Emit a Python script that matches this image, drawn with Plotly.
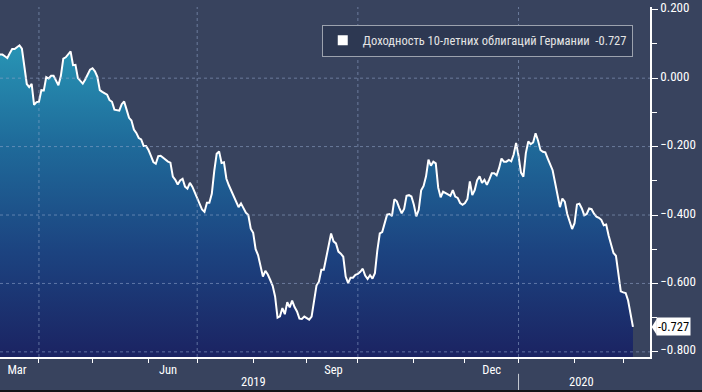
import plotly.graph_objects as go
import pandas as pd

# ---- data ----
series_name = "Доходность 10-летних облигаций Германии"
start_date = "2019-03-08"
yields = [
    0.069, 0.069, 0.064, 0.059, 0.073, 0.085, 0.085, 0.091, 0.096, 0.086,
    0.032, -0.017, -0.026, -0.017, -0.078, -0.070, -0.069, -0.035, -0.036, 0.003,
    -0.001, 0.007, 0.007, -0.006, -0.021, 0.007, 0.057, 0.061, 0.068, 0.078,
    0.038, 0.039, 0.000, -0.007, -0.016, -0.004, 0.011, 0.025, 0.029, 0.020,
    0.004, -0.035, -0.040, -0.044, -0.048, -0.064, -0.069, -0.092, -0.094, -0.095,
    -0.076, -0.068, -0.092, -0.116, -0.124, -0.150, -0.160, -0.175, -0.179, -0.198,
    -0.198, -0.210, -0.227, -0.245, -0.250, -0.228, -0.227, -0.233, -0.238, -0.244,
    -0.247, -0.288, -0.297, -0.311, -0.299, -0.294, -0.317, -0.323, -0.306, -0.317,
    -0.334, -0.350, -0.366, -0.384, -0.391, -0.364, -0.364, -0.338, -0.272, -0.221,
    -0.214, -0.248, -0.246, -0.294, -0.313, -0.330, -0.344, -0.362, -0.377, -0.366,
    -0.381, -0.393, -0.400, -0.440, -0.452, -0.500, -0.517, -0.546, -0.580, -0.563,
    -0.574, -0.590, -0.607, -0.638, -0.700, -0.696, -0.672, -0.690, -0.655, -0.670,
    -0.650, -0.669, -0.682, -0.703, -0.704, -0.697, -0.701, -0.706, -0.697, -0.650,
    -0.606, -0.595, -0.560, -0.560, -0.523, -0.480, -0.454, -0.477, -0.483, -0.507,
    -0.513, -0.522, -0.580, -0.599, -0.583, -0.583, -0.575, -0.572, -0.566, -0.557,
    -0.577, -0.587, -0.576, -0.586, -0.570, -0.503, -0.454, -0.450, -0.425, -0.399,
    -0.397, -0.403, -0.354, -0.360, -0.379, -0.395, -0.382, -0.344, -0.342, -0.346,
    -0.370, -0.404, -0.385, -0.328, -0.315, -0.287, -0.238, -0.256, -0.244, -0.249,
    -0.320, -0.348, -0.332, -0.335, -0.340, -0.344, -0.327, -0.346, -0.350, -0.365,
    -0.370, -0.365, -0.353, -0.302, -0.342, -0.327, -0.298, -0.287, -0.306, -0.297,
    -0.312, -0.296, -0.278, -0.278, -0.284, -0.263, -0.235, -0.244, -0.244, -0.239,
    -0.243, -0.223, -0.189, -0.227, -0.276, -0.288, -0.219, -0.185, -0.193, -0.188,
    -0.161, -0.182, -0.210, -0.215, -0.217, -0.235, -0.254, -0.269, -0.305, -0.343,
    -0.377, -0.352, -0.361, -0.397, -0.423, -0.441, -0.424, -0.369, -0.367, -0.381,
    -0.401, -0.397, -0.381, -0.383, -0.396, -0.405, -0.408, -0.414, -0.430, -0.428,
    -0.460, -0.487, -0.511, -0.519, -0.580, -0.623, -0.626, -0.628, -0.650, -0.689, -0.727,
]
dates = pd.bdate_range(start_date, periods=len(yields))

x_range_end = "2020-03-17"
y_range = [-0.815, 0.208]
y_ticks = [0.2, 0.0, -0.2, -0.4, -0.6, -0.8]
y_minor_ticks = [0.1, -0.1, -0.3, -0.5, -0.7]
month_starts = ["2019-04-01", "2019-05-01", "2019-06-03", "2019-07-01", "2019-08-01",
                "2019-09-02", "2019-10-01", "2019-11-01", "2019-12-02", "2020-01-01",
                "2020-02-03", "2020-03-02"]
quarter_starts = ["2019-04-01", "2019-07-01", "2019-10-01", "2020-01-01"]
month_label_dates = ["2019-03-19", "2019-06-13", "2019-09-17", "2019-12-17"]
month_labels = ["Mar", "Jun", "Sep", "Dec"]
year_label_dates = ["2019-08-01", "2020-02-06"]
year_labels = ["2019", "2020"]
year_split = "2020-01-01"

# ---- styles ----
BG = "#38435e"
FONT = "Liberation Sans Narrow, Roboto Condensed, Arial Narrow, Liberation Sans, sans-serif"
GRID = "rgba(150,170,205,0.55)"

fig = go.Figure()

# invisible baseline at bottom of the plot for the area fill
fig.add_trace(go.Scatter(
    x=dates, y=[y_range[0]] * len(yields), mode="lines",
    line=dict(width=0, color="rgba(0,0,0,0)"), showlegend=False, hoverinfo="skip",
))
fig.add_trace(go.Scatter(
    x=dates, y=yields, mode="lines", fill="tonexty",
    line=dict(color="white", width=2),
    fillgradient=dict(
        type="vertical",
        colorscale=[[0.0, "#1b2160"], [0.35, "#1c4380"], [0.7, "#1f6c9b"], [1.0, "#2895b5"]],
        start=y_range[0], stop=0.1,
    ),
    showlegend=False, name=series_name,
))
# legend entry (white square)
fig.add_trace(go.Scatter(
    x=[None], y=[None], mode="markers",
    marker=dict(symbol="square", color="white", size=10),
    name=f"{series_name}\u00a0\u00a0{yields[-1]:.3f}", showlegend=True,
))

shapes = []
for yv in y_ticks[1:]:
    shapes.append(dict(type="line", xref="paper", yref="y", x0=0, x1=1, y0=yv, y1=yv,
                       line=dict(color=GRID, width=1, dash="dot"), layer="above"))
for q in quarter_starts:
    shapes.append(dict(type="line", xref="x", yref="paper", x0=q, x1=q, y0=0, y1=1,
                       line=dict(color=GRID, width=1, dash="dot"), layer="above"))
# year separator
shapes.append(dict(type="line", xref="x", yref="paper", x0=year_split, x1=year_split,
                   y0=-0.048, y1=-0.1, line=dict(color="#c8ccd4", width=1)))
# last value pointer
lv = yields[-1]
shapes.append(dict(type="path", xref="paper", yref="y",
                   path=f"M 1.0025,{lv} L 1.0105,{lv + 0.024} L 1.0105,{lv - 0.024} Z",
                   fillcolor="white", line=dict(width=0)))
# dark strip at bottom
shapes.append(dict(type="rect", xref="paper", yref="paper", x0=0, x1=1.08, y0=-0.094, y1=-0.11,
                   fillcolor="#111318", line=dict(width=0)))

annotations = []
for d, t in zip(year_label_dates, year_labels):
    annotations.append(dict(x=d, y=-0.07, xref="x", yref="paper", text=t, showarrow=False,
                            font=dict(color="white", size=12.5, family=FONT), yanchor="middle"))
annotations.append(dict(x=1, y=lv, xref="paper", yref="y", text=f"{lv:.3f}", showarrow=False,
                        xanchor="left", xshift=6, yanchor="middle", bgcolor="white",
                        font=dict(color="black", size=12.5, family=FONT), borderpad=1))

fig.update_layout(
    width=702, height=392,
    margin=dict(l=0, r=52, t=0, b=35, pad=0),
    paper_bgcolor=BG, plot_bgcolor=BG,
    font=dict(family=FONT, color="white", size=12),
    showlegend=True,
    legend=dict(x=0.495, y=0.95, xanchor="left", yanchor="top",
                bgcolor="#2d3852", bordercolor="#9ca2ae", borderwidth=1,
                font=dict(color="#e4e4e4", size=12.5, family=FONT), itemwidth=30),
    xaxis=dict(
        type="date", range=[dates[0], x_range_end],
        rangebreaks=[dict(bounds=["sat", "mon"])],
        tickmode="array", tickvals=month_label_dates, ticktext=month_labels,
        ticks="", showgrid=False, zeroline=False,
        showline=True, linecolor="white", linewidth=1.5,
        tickfont=dict(color="white", size=12.5, family=FONT),
        minor=dict(tickmode="array", tickvals=month_starts, ticks="outside",
                   ticklen=4, tickcolor="white", tickwidth=1, showgrid=False),
    ),
    yaxis=dict(
        side="right", range=y_range,
        tickmode="array", tickvals=y_ticks, tickformat=".3f",
        ticks="outside", ticklen=6, tickcolor="white", tickwidth=1,
        showgrid=False, zeroline=False,
        showline=True, linecolor="white", linewidth=1.5,
        tickfont=dict(color="white", size=13, family=FONT),
        ticklabeloverflow="allow", ticklabelshift=-2,
        minor=dict(tickmode="array", tickvals=y_minor_ticks, ticks="outside",
                   ticklen=5, tickcolor="white", tickwidth=1, showgrid=False),
    ),
    shapes=shapes,
    annotations=annotations,
)

fig.write_html(
    "out.html",
    config={"displayModeBar": False},
    post_script="document.body.style.margin='0';document.body.style.overflow='hidden';document.body.style.background='" + BG + "';",
)
